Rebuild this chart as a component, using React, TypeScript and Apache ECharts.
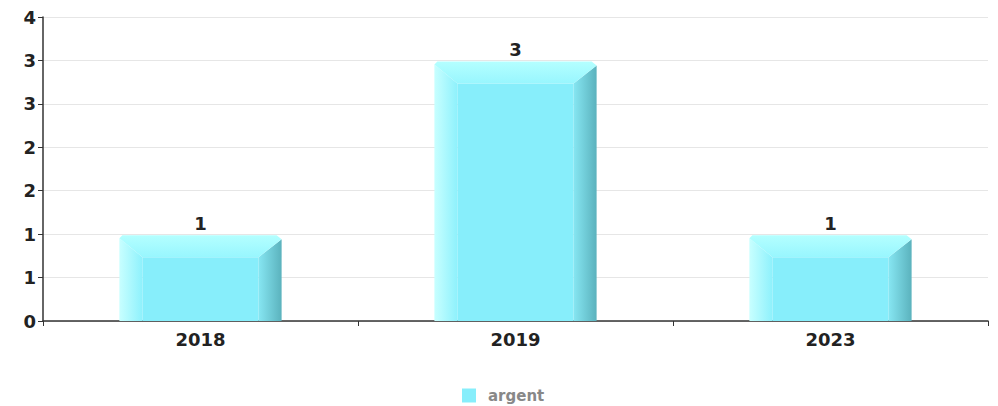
import React, { useEffect, useRef } from "react";
import * as echarts from "echarts";

const categories = ["2018", "2019", "2023"];
const values = [1, 3, 1];
const seriesName = "argent";

export default function App() {
  const ref = useRef<HTMLDivElement>(null);
  useEffect(() => {
    if (!ref.current) return;
    const chart = echarts.init(ref.current, null, { renderer: "svg" });
    const font = "DejaVu Sans";
    chart.setOption({
      animation: false,
      grid: { left: 43, right: 10, top: 17, bottom: 85, containLabel: false },
      legend: {
        data: [seriesName],
        top: 388,
        left: 462,
        icon: "rect",
        itemWidth: 14,
        itemHeight: 14,
        itemGap: 10,
        padding: 0,
        textStyle: { color: "#888", fontWeight: "bold", fontSize: 15, fontFamily: font, padding: [0, 0, 0, 7] },
      },
      xAxis: {
        type: "category",
        data: categories,
        axisLine: { lineStyle: { color: "#333", width: 1.5 } },
        axisTick: { show: true, alignWithLabel: false, length: 5, lineStyle: { color: "#333" } },
        axisLabel: { color: "#222", fontWeight: "bold", fontSize: 18, fontFamily: font, margin: 9 },
      },
      yAxis: {
        type: "value",
        min: 0,
        max: 3.5,
        interval: 0.5,
        axisLine: { show: true, lineStyle: { color: "#333", width: 1.5 } },
        axisTick: { show: true, length: 5, lineStyle: { color: "#333" } },
        axisLabel: {
          color: "#222",
          fontWeight: "bold",
          fontSize: 18,
          fontFamily: font,
          margin: 7,
          formatter: (v: number) => String(Math.round(v)),
        },
        splitLine: { lineStyle: { color: "#e6e6e6", width: 1 } },
      },
      series: [
        {
          name: seriesName,
          type: "custom",
          itemStyle: { color: "#87EEFB" },
          data: values.map((v, i) => [i, v]),
          encode: { x: 0, y: 1 },
          renderItem: (params: any, api: any) => {
            const idx = api.value(0);
            const val = api.value(1);
            const top = api.coord([idx, val]);
            const base = api.coord([idx, 0]);
            const catW = api.size([1, 0])[0];
            const w = catW * 0.515;
            const x0 = top[0] - w / 2;
            const x1 = top[0] + w / 2;
            const y0 = top[1] + 1;
            const yb = base[1];
            const b = 23;
            const bt = 22;
            const lin = (x: number, y: number, x2: number, y2: number, c0: string, c1: string) =>
              new echarts.graphic.LinearGradient(x, y, x2, y2, [
                { offset: 0, color: c0 },
                { offset: 1, color: c1 },
              ]);
            return {
              type: "group",
              children: [
                {
                  type: "rect",
                  shape: { x: x0 + b, y: y0 + bt, width: w - 2 * b, height: yb - y0 - bt },
                  style: { fill: "#87EEFB" },
                },
                {
                  type: "polygon",
                  shape: { points: [[x0, y0 + 3], [x0 + b, y0 + bt], [x0 + b, yb], [x0, yb]] },
                  style: { fill: lin(0, 0, 1, 0, "#C8FFFF", "#8EF1FC") },
                },
                {
                  type: "polygon",
                  shape: { points: [[x1, y0 + 4], [x1, yb], [x1 - b, yb], [x1 - b, y0 + bt]] },
                  style: { fill: lin(0, 0, 1, 0, "#86E6F2", "#5BB2BD") },
                },
                {
                  type: "polygon",
                  shape: {
                    points: [
                      [x0, y0 + 3],
                      [x0 + 3, y0],
                      [x1 - 5, y0],
                      [x1, y0 + 4],
                      [x1 - b, y0 + bt],
                      [x0 + b, y0 + bt],
                    ],
                  },
                  style: { fill: lin(0, 0, 0, 1, "#B4FFFF", "#98F6FE") },
                },
                {
                  type: "text",
                  x: top[0],
                  y: y0 - 3,
                  style: {
                    text: String(val),
                    fill: "#222",
                    font: `bold 18px "${font}"`,
                    textAlign: "center",
                    textVerticalAlign: "bottom",
                  },
                },
              ],
            };
          },
        },
      ],
    });
    return () => chart.dispose();
  }, []);
  return (
    <div
      ref={ref}
      style={{ position: "fixed", left: 0, top: 0, width: 998, height: 406, background: "#fff" }}
    />
  );
}
